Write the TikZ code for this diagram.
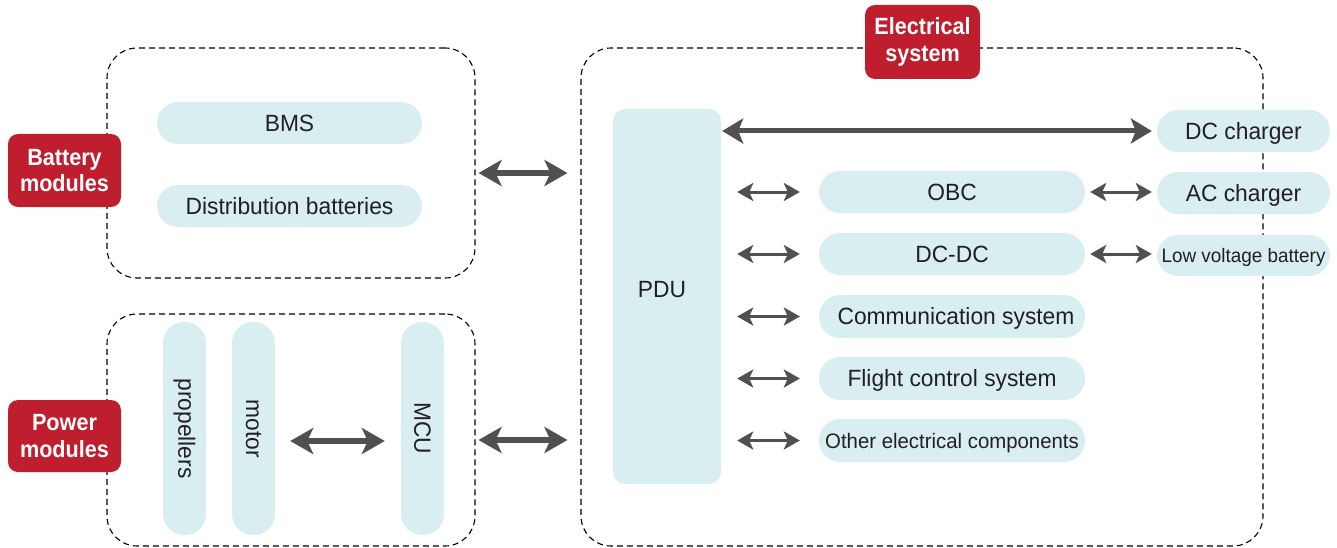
\documentclass[tikz,border=0pt]{standalone}
\usepackage{fontspec}
\setmainfont{Liberation Sans}[FakeStretch=0.97]
\newfontfamily\labelfont{Liberation Sans}[FakeStretch=0.92]
\usetikzlibrary{arrows.meta}
\definecolor{pillc}{HTML}{D9EEF1}
\definecolor{redc}{HTML}{BE1E2D}
\definecolor{arrc}{HTML}{505050}
\definecolor{txtc}{HTML}{231F20}
\begin{document}
\begin{tikzpicture}[x=1pt,y=-1pt,
  dashbox/.style={draw=black, line width=1.1pt, dash pattern=on 6pt off 4pt, rounded corners=30pt, inner sep=0pt},
  pillbase/.style={fill=pillc, rounded corners=21pt, inner sep=0pt, text=txtc, font=\fontsize{23.5}{27}\selectfont},
  vpill/.style={pillbase, minimum width=43pt, minimum height=213pt},
  hpill/.style={pillbase, minimum height=42pt, text height=16.8pt, text depth=0pt},
  redlabel/.style={fill=redc, rounded corners=10pt, text=white, align=center, inner sep=0pt, font=\labelfont\bfseries\fontsize{23.5}{26.5}\selectfont},
  bigarrow/.style={draw=arrc, line width=5.5pt, {Stealth[length=23pt,width=26pt,inset=6pt]}-{Stealth[length=23pt,width=26pt,inset=6pt]}},
  midarrow/.style={draw=arrc, line width=5pt, {Stealth[length=21pt,width=25pt,inset=5pt]}-{Stealth[length=21pt,width=25pt,inset=5pt]}},
  smallarrow/.style={draw=arrc, line width=3pt, {Stealth[length=16pt,width=18pt,inset=4pt]}-{Stealth[length=16pt,width=18pt,inset=4pt]}}
]
\useasboundingbox (0,0) rectangle (1337,548);
% group boxes
\node[dashbox, minimum width=368pt, minimum height=230pt] (batbox) at (291,163) {};
\node[dashbox, minimum width=368pt, minimum height=232pt] (powbox) at (291,430) {};
\node[dashbox, minimum width=682pt, minimum height=498pt] (elecbox) at (922,297) {};
% labels
\node[redlabel, minimum width=113pt, minimum height=73pt] (batlabel) at (64.5,170.5) {Battery\\modules};
\node[redlabel, minimum width=113pt, minimum height=72pt] (powlabel) at (64.5,436) {Power\\modules};
\node[redlabel, minimum width=115pt, minimum height=74pt] (eleclabel) at (922.5,42) {Electrical\\system};
% battery modules
\node[hpill, minimum width=265pt] (bms) at (289.5,123) {BMS};
\node[hpill, minimum width=265pt] (distb) at (289.5,206) {Distribution batteries};
% power modules
\node[vpill] (prop) at (184.5,428.5) {\rotatebox{-90}{propellers}};
\node[vpill] (motor) at (253.5,428.5) {\rotatebox{-90}{motor}};
\node[vpill] (mcu) at (422.5,428.5) {\rotatebox{-90}{MCU}};
% electrical system
\node[pillbase, rounded corners=12pt, minimum width=108pt, minimum height=375pt] (pdu) at (667,296.5) {};
\node[text=txtc, font=\fontsize{23.5}{27}\selectfont] (pdutext) at (662,290) {PDU};
\node[hpill, minimum width=173pt] (dcc) at (1243.5,131) {DC charger};
\node[hpill, minimum width=266pt] (obc) at (952,192) {OBC};
\node[hpill, minimum width=173pt] (acc) at (1243.5,193) {AC charger};
\node[hpill, minimum width=266pt] (dcdc) at (952,254) {DC-DC};
\node[hpill, minimum width=173pt, minimum height=41pt, font=\fontsize{19.5}{24}\selectfont, text height=14pt] (lvb) at (1243.5,255.5) {Low voltage battery};
\node[hpill, minimum width=266pt, minimum height=43pt] (comm) at (952,316.5) {\hspace*{8pt}Communication system};
\node[hpill, minimum width=266pt, minimum height=43pt] (flight) at (952,378.5) {Flight control system};
\node[hpill, minimum width=266pt, minimum height=43pt, font=\fontsize{21}{25}\selectfont, text height=15pt] (other) at (952,440.5) {Other electrical components};
% helper coordinates
\coordinate (ya) at (0,173);
\coordinate (yb) at (0,440);
\coordinate (yc) at (0,441);
% connectors
\draw[bigarrow, shorten <=3pt, shorten >=13pt] (batbox.east |- ya) -- (elecbox.west |- ya);
\draw[bigarrow, shorten <=3pt, shorten >=13pt] (powbox.east |- yb) -- (elecbox.west |- yb);
\draw[bigarrow, shorten <=15pt, shorten >=16pt] (motor.east |- yc) -- (mcu.west |- yc);
\draw[midarrow, shorten <=1pt, shorten >=5pt] (pdu.east |- dcc) -- (dcc.west);
\foreach \n in {obc,dcdc,comm,flight,other}{
  \draw[smallarrow, shorten <=16pt, shorten >=19pt] (pdu.east |- \n) -- (\n.west);
}
\draw[smallarrow, shorten <=5pt, shorten >=5pt] (obc.east) -- (acc.west |- obc);
\draw[smallarrow, shorten <=5pt, shorten >=5pt] (dcdc.east) -- (lvb.west |- dcdc);
\end{tikzpicture}
\end{document}
